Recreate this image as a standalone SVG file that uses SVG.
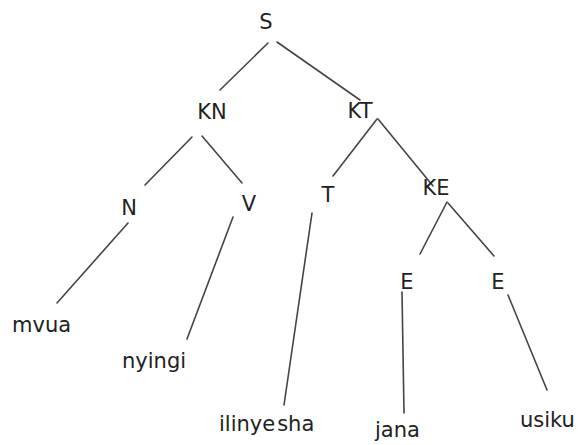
<svg xmlns="http://www.w3.org/2000/svg" width="579" height="445" viewBox="0 0 579 445">
<style>
text{font-family:"DejaVu Sans","Liberation Sans",sans-serif;font-size:21px;fill:#222}
.c{text-anchor:middle}
.e line{stroke:#444;stroke-width:1.6;stroke-linecap:round}
</style>
<rect width="579" height="445" fill="#fff"/>
<g class="e" id="connectors">
<line x1="268" y1="43" x2="220" y2="90"/>
<line x1="277" y1="42" x2="360" y2="100"/>
<line x1="192" y1="137" x2="145" y2="185"/>
<line x1="202" y1="136" x2="242" y2="183"/>
<line x1="128" y1="223" x2="57" y2="303"/>
<line x1="233" y1="217" x2="187" y2="339"/>
<line x1="377" y1="119" x2="333" y2="176"/>
<line x1="378" y1="119" x2="433" y2="186"/>
<line x1="312" y1="213" x2="284" y2="405"/>
<line x1="447" y1="202" x2="420" y2="254"/>
<line x1="448" y1="203" x2="494" y2="256"/>
<line x1="402" y1="292" x2="404" y2="413"/>
<line x1="508" y1="295" x2="547" y2="390"/>
</g>
<g id="S"><text class="c" x="266" y="29">S</text></g>
<g id="KN"><text class="c" x="212" y="119">KN</text></g>
<g id="KT"><text class="c" x="360" y="118">KT</text></g>
<g id="N"><text class="c" x="129" y="215">N</text></g>
<g id="V"><text class="c" x="249" y="211">V</text></g>
<g id="T"><text class="c" x="328" y="202">T</text></g>
<g id="KE"><text class="c" x="436" y="195">KE</text></g>
<g id="E1"><text class="c" x="407" y="289">E</text></g>
<g id="E2"><text class="c" x="498" y="289">E</text></g>
<g id="mvua"><text x="12" y="332">mvua</text></g>
<g id="nyingi"><text x="122" y="368">nyingi</text></g>
<g id="ilinyesha"><text x="219" y="431">ilinye<tspan dx="2">sha</tspan></text></g>
<g id="jana"><text x="375" y="437">jana</text></g>
<g id="usiku"><text x="520" y="427">usiku</text></g>
</svg>
